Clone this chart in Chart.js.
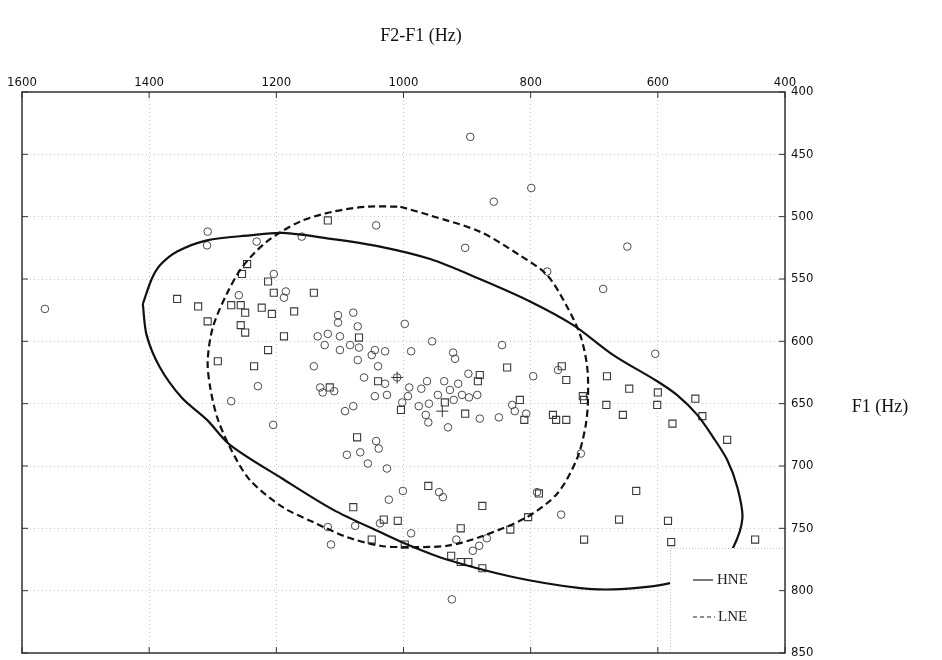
<!DOCTYPE html>
<html lang="en">
<head>
<meta charset="UTF-8">
<title>F1 / F2-F1</title>
<script src="https://cdn.jsdelivr.net/npm/chart.js"></script>
<style>
  html, body { margin: 0; padding: 0; background: #fff; }
  #wrap { width: 942px; height: 660px; }
</style>
</head>
<body>
<div id="wrap"><canvas id="chart" width="942" height="660"></canvas></div>
<script>
// x = F2-F1 (Hz), y = F1 (Hz), both axes reversed
var xTicks = [1600, 1400, 1200, 1000, 800, 600, 400];
var yTicks = [400, 450, 500, 550, 600, 650, 700, 750, 800, 850];

// circle markers
var circleF2F1 = [895, 799, 858, 648, 903, 774, 686, 1043, 1160, 1308, 1309, 1231, 1204, 1185, 1188, 1259, 1564,
  1103, 1103, 1079, 1072, 998, 1135, 1119, 1100, 1124, 1084, 1100, 1070, 955, 1045, 1029, 1050, 988, 922, 919,
  1072, 1040, 1141, 845, 604, 1062, 1029, 1010, 963, 936, 898, 914, 927, 1131, 1127, 1109, 1045, 1026, 991, 972,
  993, 1002, 976, 960, 946, 921, 908, 897, 884, 965, 961, 930, 880, 1092, 1079, 796, 757, 829, 825, 807, 850,
  1229, 1271, 1205, 1043, 1039, 1068, 1089, 1056, 1026, 721, 1001, 944, 938, 1023, 790, 752, 1037, 1119, 1076,
  1114, 988, 917, 881, 891, 869, 924];
var circleF1 = [436, 477, 488, 524, 525, 544, 558, 507, 516, 512, 523, 520, 546, 560, 565, 563, 574,
  579, 585, 577, 588, 586, 596, 594, 596, 603, 603, 607, 605, 600, 607, 608, 611, 608, 609, 614,
  615, 620, 620, 603, 610, 629, 634, 629, 632, 632, 626, 634, 639, 637, 641, 640, 644, 643, 637, 638,
  644, 649, 652, 650, 643, 647, 643, 645, 643, 659, 665, 669, 662, 656, 652, 628, 623, 651, 656, 658, 661,
  636, 648, 667, 680, 686, 689, 691, 698, 702, 690, 720, 721, 725, 727, 721, 739, 746, 749, 748,
  763, 754, 759, 764, 768, 758, 807];

// square markers
var squareF2F1 = [1119, 1246, 1254, 1213, 1204, 1141, 1356, 1323, 1271, 1256, 1249, 1223, 1207, 1172, 1308, 1256,
  1249, 1188, 1213, 1292, 1235, 1070, 1040, 1116, 1004, 935, 903, 880, 883, 837, 751, 744, 680, 645, 600, 601,
  541, 530, 817, 718, 716, 681, 655, 765, 760, 744, 810, 577, 491, 1073, 961, 876, 787, 634, 1079, 1031, 1009,
  910, 804, 832, 661, 584, 1050, 998, 716, 579, 447, 925, 910, 898, 876];
var squareF1 = [503, 538, 546, 552, 561, 561, 566, 572, 571, 571, 577, 573, 578, 576, 584, 587,
  593, 596, 607, 616, 620, 597, 632, 637, 655, 649, 658, 627, 632, 621, 620, 631, 628, 638, 641, 651,
  646, 660, 647, 644, 647, 651, 659, 659, 663, 663, 663, 666, 679, 677, 716, 732, 722, 720, 733, 743, 744,
  750, 741, 751, 743, 744, 759, 763, 759, 761, 759, 772, 777, 777, 782];

// group means (+)
var meanF2F1 = [1010, 939];
var meanF1 = [629, 656];

// HNE ellipse (solid), traced round from the left tip
var hneF2F1 = [1410, 1404, 1383, 1349, 1309, 1273, 1191, 1111, 1037, 994, 932, 828, 722, 670, 617, 581, 533, 499,
  482, 467, 475, 491, 513, 538, 570, 601, 670, 733, 801, 880, 958, 1037, 1111, 1190, 1242, 1309, 1356, 1383, 1396, 1410];
var hneF1 = [570, 595, 621, 645, 663, 683, 710, 735, 753, 763, 775, 789, 798, 799, 797, 794, 786, 775,
  766, 742, 717, 695, 677, 659, 643, 632, 611, 587, 568, 550, 534, 524, 518, 513, 515, 519, 528, 539, 550, 570];

// LNE ellipse (dashed), traced round from the top
var lneF2F1 = [1005, 958, 880, 817, 774, 743, 722, 711, 710, 714, 727, 758, 806, 880, 932, 997, 1037, 1089, 1142,
  1190, 1242, 1273, 1293, 1304, 1308, 1300, 1278, 1253, 1215, 1163, 1111, 1057, 1005];
var lneF1 = [492, 499, 512, 531, 547, 572, 595, 621, 649, 669, 694, 722, 741, 757, 764, 765, 764, 757, 745,
  733, 711, 685, 661, 637, 616, 589, 562, 540, 520, 504, 496, 492, 492];

function pts(xs, ys) {
  return xs.map(function (x, i) { return { x: x, y: ys[i] }; });
}

var tickFont = { family: '"Liberation Sans Narrow", "DejaVu Sans Condensed", sans-serif', size: 13 };
var serif = '"Liberation Serif", "DejaVu Serif", serif';

var decor = {
  id: 'decor',
  afterDatasetsDraw: function (chart) {
    var ctx = chart.ctx, a = chart.chartArea;
    var xs = chart.scales.x, ys = chart.scales.y;
    ctx.save();

    // legend box in the lower right corner
    var lx = a.right - 115, ly = a.bottom - 105;
    ctx.fillStyle = '#fff';
    ctx.fillRect(lx, ly, a.right - lx, a.bottom - ly);
    ctx.strokeStyle = 'rgba(0,0,0,0.25)';
    ctx.lineWidth = 1;
    ctx.setLineDash([1, 2]);
    ctx.beginPath();
    ctx.moveTo(lx + 0.5, a.bottom);
    ctx.lineTo(lx + 0.5, ly + 0.5);
    ctx.lineTo(a.right, ly + 0.5);
    ctx.stroke();

    ctx.strokeStyle = '#222';
    ctx.lineWidth = 1.2;
    ctx.setLineDash([]);
    ctx.beginPath();
    ctx.moveTo(lx + 23, ly + 32);
    ctx.lineTo(lx + 43, ly + 32);
    ctx.stroke();
    ctx.setLineDash([4, 3]);
    ctx.beginPath();
    ctx.moveTo(lx + 23, ly + 69);
    ctx.lineTo(lx + 45, ly + 69);
    ctx.stroke();
    ctx.setLineDash([]);
    ctx.fillStyle = '#222';
    ctx.font = '15px ' + serif;
    ctx.textAlign = 'left';
    ctx.textBaseline = 'middle';
    ctx.fillText('HNE', lx + 47, ly + 32);
    ctx.fillText('LNE', lx + 48, ly + 69);

    // frame
    ctx.strokeStyle = '#333';
    ctx.lineWidth = 1.5;
    ctx.strokeRect(a.left, a.top, a.right - a.left, a.bottom - a.top);

    // inward tick marks on all four sides
    ctx.lineWidth = 1;
    ctx.beginPath();
    xTicks.forEach(function (v) {
      var p = xs.getPixelForValue(v);
      ctx.moveTo(p, a.top); ctx.lineTo(p, a.top + 6);
      ctx.moveTo(p, a.bottom); ctx.lineTo(p, a.bottom - 6);
    });
    yTicks.forEach(function (v) {
      var p = ys.getPixelForValue(v);
      ctx.moveTo(a.left, p); ctx.lineTo(a.left + 6, p);
      ctx.moveTo(a.right, p); ctx.lineTo(a.right - 6, p);
    });
    ctx.stroke();

    // axis titles
    ctx.fillStyle = '#111';
    ctx.font = '18px ' + serif;
    ctx.textAlign = 'center';
    ctx.fillText('F2-F1 (Hz)', 421, 36);
    ctx.fillText('F1 (Hz)', 880, 407);
    ctx.restore();
  }
};

function noPad(scale) {
  scale.paddingLeft = 0; scale.paddingRight = 0;
  scale.paddingTop = 0; scale.paddingBottom = 0;
}

function plain(v) { return String(v); }

new Chart(document.getElementById('chart'), {
  type: 'scatter',
  data: {
    datasets: [
      {
        label: 'HNE', data: pts(hneF2F1, hneF1), showLine: true, tension: 0.3,
        borderColor: '#111', borderWidth: 2.2, pointRadius: 0, fill: false
      },
      {
        label: 'LNE', data: pts(lneF2F1, lneF1), showLine: true, tension: 0.3,
        borderColor: '#111', borderWidth: 2.2, borderDash: [7, 4], pointRadius: 0, fill: false
      },
      {
        label: 'circles', data: pts(circleF2F1, circleF1), pointStyle: 'circle', pointRadius: 3.8,
        borderColor: '#4a4a4a', backgroundColor: 'rgba(0,0,0,0)', borderWidth: 1
      },
      {
        label: 'squares', data: pts(squareF2F1, squareF1), pointStyle: 'rect', pointRadius: 5,
        borderColor: '#3a3a3a', backgroundColor: 'rgba(0,0,0,0)', borderWidth: 1.1
      },
      {
        label: 'means', data: pts(meanF2F1, meanF1), pointStyle: 'cross', pointRadius: 6,
        borderColor: '#333', borderWidth: 1
      }
    ]
  },
  options: {
    responsive: false,
    animation: false,
    layout: { padding: { left: 22, top: 0, right: 0, bottom: 3 } },
    plugins: { legend: { display: false }, tooltip: { enabled: false } },
    scales: {
      x: {
        type: 'linear', position: 'top', reverse: true, min: 400, max: 1600,
        afterBuildTicks: function (s) { s.ticks = xTicks.map(function (v) { return { value: v }; }); },
        afterFit: function (s) { s.height = 92; noPad(s); },
        grid: { color: 'rgba(0,0,0,0.22)', lineWidth: 1, drawTicks: false },
        border: { display: false, dash: [1, 3] },
        ticks: { font: tickFont, color: '#111', padding: 2, maxRotation: 0, autoSkip: false, callback: plain }
      },
      y: {
        type: 'linear', position: 'right', reverse: true, min: 400, max: 850,
        afterBuildTicks: function (s) { s.ticks = yTicks.map(function (v) { return { value: v }; }); },
        afterFit: function (s) { s.width = 157; noPad(s); },
        grid: { color: 'rgba(0,0,0,0.22)', lineWidth: 1, drawTicks: false },
        border: { display: false, dash: [1, 3] },
        ticks: { font: tickFont, color: '#111', padding: 6, autoSkip: false, callback: plain }
      }
    }
  },
  plugins: [decor]
});
</script>
</body>
</html>
